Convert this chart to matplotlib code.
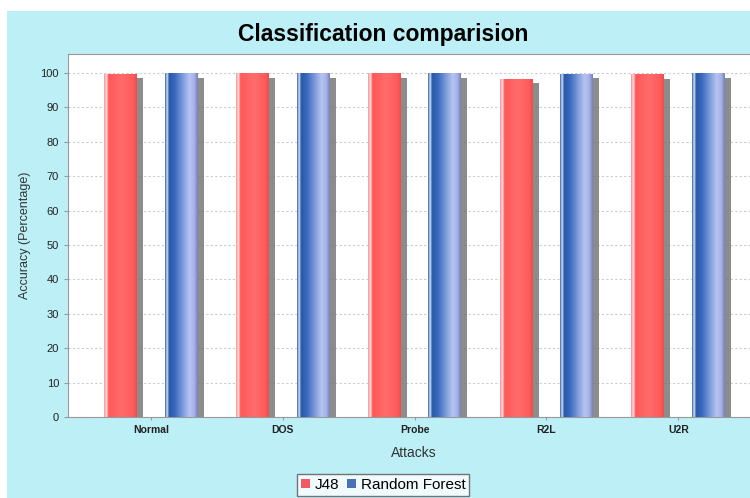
import numpy as np
import matplotlib
matplotlib.use("Agg")
import matplotlib.pyplot as plt
from matplotlib.colors import LinearSegmentedColormap
from matplotlib.patches import Rectangle

plt.rcParams["font.family"] = ["Liberation Sans", "DejaVu Sans"]

# data
attacks = ["Normal", "DOS", "Probe", "R2L", "U2R"]
j48 = [99.8, 99.9, 99.9, 98.3, 99.6]
random_forest = [99.9, 99.9, 99.9, 99.7, 99.9]

bg = "#bdeff6"
red_cmap = LinearSegmentedColormap.from_list("red", [
    (0.0, "#f09a9a"), (0.07, "#fde4e4"), (0.13, "#ff5858"),
    (0.55, "#ff6c6c"), (0.9, "#ff5a5a"), (1.0, "#ea5050")])
blue_cmap = LinearSegmentedColormap.from_list("blue", [
    (0.0, "#4a6aa8"), (0.06, "#d4e6f8"), (0.12, "#2858a6"),
    (0.3, "#3a6abf"), (0.75, "#b6c4f2"), (0.9, "#a6b2e6"), (1.0, "#7482b8")])

fig = plt.figure(figsize=(7.5, 4.98), dpi=100, facecolor="white")
fig.patches.append(Rectangle((7 / 750, 0), 1, 487 / 498, transform=fig.transFigure,
                             facecolor=bg, edgecolor="none", zorder=-1))

ax = fig.add_axes([68 / 750, 81 / 498, 692 / 750, 363 / 498])
ax.set_facecolor("white")

x = np.arange(len(attacks))
w = 0.25
off = 0.23
dx, dy = 0.045, 1.3
grad = np.linspace(0, 1, 64).reshape(1, -1)


def draw_bars(pos, vals, cmap, label, swatch):
    # shadows first
    ax.bar(pos + dx, np.array(vals) - dy, w, color="#707070", alpha=0.8, zorder=2)
    bars = ax.bar(pos, vals, w, color=swatch, label=label, zorder=3)
    for b in bars:
        x0, h = b.get_x(), b.get_height()
        im = ax.imshow(grad, cmap=cmap, aspect="auto", extent=[x0, x0 + b.get_width(), 0, h],
                       zorder=4, interpolation="bilinear")
        im.set_clip_path(b)


draw_bars(x - off, j48, red_cmap, "J48", "#f05a60")
draw_bars(x + off, random_forest, blue_cmap, "Random Forest", "#4a70b8")

ax.set_xlim(-0.63, 4.62)
ax.set_ylim(0, 105.5)
ax.set_yticks(np.arange(0, 101, 10))
ax.set_xticks(x)
ax.set_xticklabels(attacks, fontsize=7.5, fontweight="bold", color="#222222")
ax.tick_params(axis="y", labelsize=8, colors="#222222", length=3, color="#999999")
ax.tick_params(axis="x", length=2, color="#999999")
ax.grid(axis="y", color="#cccccc", linestyle=(0, (2, 2)), linewidth=0.8, zorder=0)
for s in ax.spines.values():
    s.set_color("#999999")

ax.set_ylabel("Accuracy (Percentage)", fontsize=9, color="#333333", labelpad=7)
ax.set_xlabel("Attacks", fontsize=10, color="#333333", labelpad=8)
fig.text(383 / 750, 1 - 35 / 498, "Classification comparision", ha="center", va="center",
         fontsize=16.5, fontweight="bold")

leg = fig.legend(loc="center", bbox_to_anchor=(383 / 750, 1 - 485 / 498), ncol=2,
                 fontsize=11, frameon=True, handlelength=0.6, handleheight=0.6,
                 handletextpad=0.3, columnspacing=0.5, borderpad=0.25, fancybox=False)
leg.get_frame().set_edgecolor("#555555")
leg.get_frame().set_linewidth(1.0)

fig.savefig("out.png", dpi=100, facecolor=fig.get_facecolor())
